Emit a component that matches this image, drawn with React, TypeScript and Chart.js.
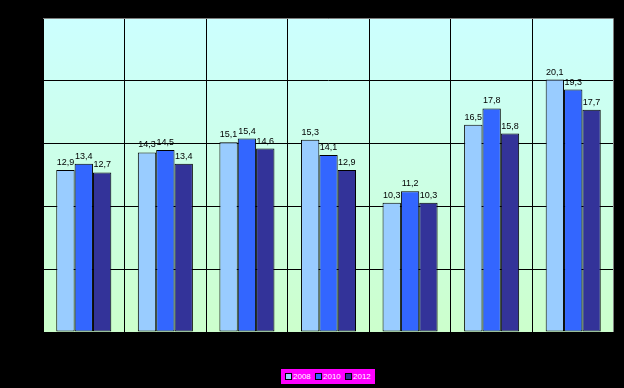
import React, { useEffect, useRef } from "react";
import { Chart, registerables } from "chart.js";

Chart.register(...registerables);

const categories = ["1", "2", "3", "4", "5", "6", "7"];
const seriesNames = ["2008", "2010", "2012"];
const values2008 = [12.9, 14.3, 15.1, 15.3, 10.3, 16.5, 20.1];
const values2010 = [13.4, 14.5, 15.4, 14.1, 11.2, 17.8, 19.3];
const values2012 = [12.7, 13.4, 14.6, 12.9, 10.3, 15.8, 17.7];
const seriesColors = ["#99CCFF", "#3366FF", "#333399"];
const yMax = 25;
const yStep = 5;

const bgPlugin = {
  id: "plotBg",
  beforeDraw(chart: any) {
    const { ctx, chartArea } = chart;
    if (!chartArea) return;
    const g = ctx.createLinearGradient(0, chartArea.top, 0, chartArea.bottom);
    g.addColorStop(0, "#CCFFFF");
    g.addColorStop(1, "#CCFFCC");
    ctx.save();
    ctx.fillStyle = g;
    ctx.fillRect(chartArea.left, chartArea.top, chartArea.right - chartArea.left, chartArea.bottom - chartArea.top);
    ctx.restore();
  },
  afterDraw(chart: any) {
    const { ctx, chartArea } = chart;
    ctx.save();
    ctx.strokeStyle = "#808080";
    ctx.lineWidth = 1;
    ctx.beginPath();
    ctx.moveTo(chartArea.left, chartArea.top + 0.5);
    ctx.lineTo(chartArea.right - 0.5, chartArea.top + 0.5);
    ctx.lineTo(chartArea.right - 0.5, chartArea.bottom);
    ctx.stroke();
    ctx.restore();
  },
};

const labelPlugin = {
  id: "barLabels",
  afterDatasetsDraw(chart: any) {
    const { ctx } = chart;
    ctx.save();
    ctx.fillStyle = "#000000";
    ctx.font = "9px 'Liberation Sans', Arial, sans-serif";
    ctx.textAlign = "center";
    ctx.textBaseline = "bottom";
    chart.data.datasets.forEach((ds: any, di: number) => {
      const meta = chart.getDatasetMeta(di);
      meta.data.forEach((el: any, i: number) => {
        const v = ds.data[i];
        ctx.fillText(String(v).replace(".", ","), el.x, el.y - 3);
      });
    });
    ctx.restore();
  },
};

export default function App() {
  const ref = useRef<HTMLCanvasElement | null>(null);
  useEffect(() => {
    document.body.style.margin = "0";
    document.body.style.background = "#000";
    const chart = new Chart(ref.current as HTMLCanvasElement, {
      type: "bar",
      data: {
        labels: categories,
        datasets: [values2008, values2010, values2012].map((d, i) => ({
          label: seriesNames[i],
          data: d,
          backgroundColor: seriesColors[i],
          borderColor: "#000000",
          borderWidth: 1,
          borderSkipped: false,
          categoryPercentage: 0.675,
          barPercentage: 1.0,
        })),
      },
      options: {
        animation: false,
        responsive: false,
        maintainAspectRatio: false,
        layout: { padding: { left: 43, right: 10, top: 18, bottom: 56 } },
        plugins: { legend: { display: false }, tooltip: { enabled: false } },
        scales: {
          x: {
            grid: { display: true, color: "#000000", lineWidth: 1, drawTicks: false, offset: true },
            border: { display: false },
            ticks: { display: false },
          },
          y: {
            min: 0,
            max: yMax,
            grid: { display: true, color: "#000000", lineWidth: 1, drawTicks: false },
            border: { display: false },
            ticks: { display: false, stepSize: yStep },
          },
        },
      },
      plugins: [bgPlugin, labelPlugin],
    });
    return () => chart.destroy();
  }, []);

  const legendItem = (name: string, color: string) => (
    <span key={name} style={{ display: "inline-flex", alignItems: "center", width: 30 }}>
      <span style={{ width: 5, height: 5, background: color, border: "1px solid #000", marginRight: 1, display: "inline-block", flex: "none" }} />
      <span>{name}</span>
    </span>
  );

  return (
    <div style={{ position: "absolute", left: 0, top: 0, width: 624, height: 388, background: "#000" }}>
      <canvas ref={ref} width={624} height={388} style={{ display: "block" }} />
      <div
        style={{
          position: "absolute",
          left: 281,
          top: 369,
          width: 94,
          height: 15,
          background: "#FF00FF",
          color: "#FFFFFF",
          fontFamily: "'Liberation Sans', Arial, sans-serif",
          fontSize: 8,
          display: "flex",
          alignItems: "center",
          paddingLeft: 4,
          boxSizing: "border-box",
          whiteSpace: "nowrap",
          overflow: "hidden",
        }}
      >
        {seriesNames.map((n, i) => legendItem(n, seriesColors[i]))}
      </div>
    </div>
  );
}
